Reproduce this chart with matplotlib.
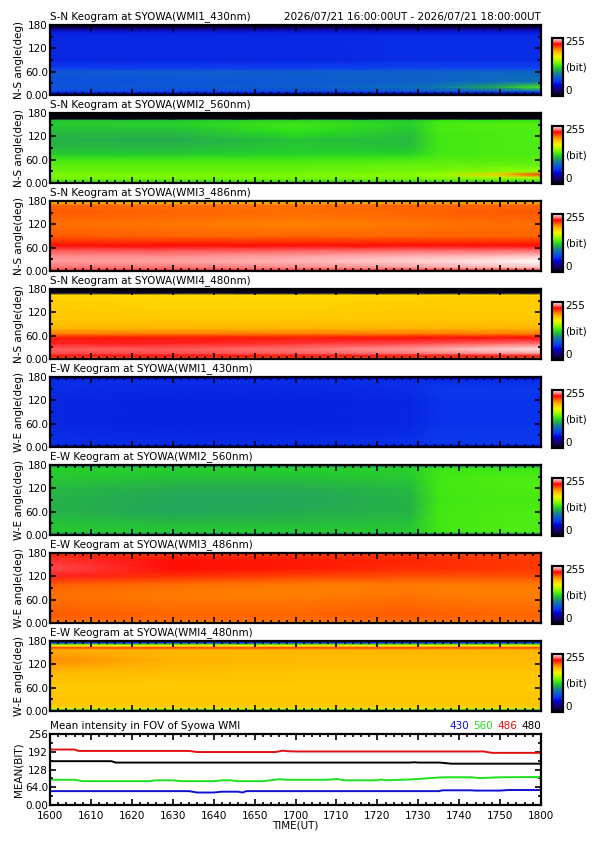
import numpy as np
import matplotlib
matplotlib.use('Agg')
import matplotlib.pyplot as plt
from matplotlib.colors import LinearSegmentedColormap
from matplotlib.ticker import MultipleLocator

plt.rcParams['font.family'] = ['DejaVu Sans']

W, H = 595, 842
FS = 7.5

# --- time axis (minutes after 16:00 UT) ---
t_nodes = [0, 30, 60, 88, 95, 110, 120]
time_ticks = [0, 10, 20, 30, 40, 50, 60, 70, 80, 90, 100, 110, 120]
time_labels = ['1600', '1610', '1620', '1630', '1640', '1650', '1700',
               '1710', '1720', '1730', '1740', '1750', '1800']
date_text = '2026/07/21 16:00:00UT - 2026/07/21 18:00:00UT'

# --- keogram panels: angle nodes and values (bit) at t_nodes ---
sn430_ang = [0, 4, 10, 20, 35, 50, 60, 70, 90, 120, 150, 162, 172, 180]
sn430_val = [[10, 10, 10, 10, 10, 10, 10],
             [40, 40, 40, 40, 40, 40, 40],
             [72, 72, 74, 76, 78, 80, 82],
             [78, 80, 82, 90, 95, 115, 135],
             [76, 78, 80, 82, 84, 88, 92],
             [78, 80, 82, 84, 84, 86, 88],
             [80, 82, 82, 84, 84, 86, 86],
             [68, 68, 68, 70, 70, 70, 70],
             [60, 60, 60, 62, 62, 62, 62],
             [60, 60, 60, 62, 62, 62, 62],
             [60, 60, 60, 62, 62, 62, 62],
             [56, 56, 56, 56, 56, 56, 56],
             [25, 25, 25, 25, 25, 25, 25],
             [0, 0, 0, 0, 0, 0, 0]]

sn560_ang = [0, 3, 8, 15, 22, 30, 45, 60, 75, 90, 110, 130, 150, 163, 165, 180]
sn560_val = [[40, 40, 40, 40, 40, 40, 40],
             [130, 130, 130, 130, 130, 130, 130],
             [140, 140, 140, 140, 140, 140, 140],
             [146, 146, 146, 148, 150, 156, 160],
             [148, 148, 148, 150, 152, 190, 222],
             [142, 142, 142, 144, 146, 150, 154],
             [140, 140, 140, 142, 142, 142, 142],
             [134, 134, 134, 136, 138, 138, 138],
             [122, 122, 124, 124, 134, 136, 136],
             [118, 118, 122, 120, 134, 136, 136],
             [116, 114, 120, 118, 134, 136, 136],
             [118, 118, 128, 120, 134, 136, 136],
             [122, 124, 134, 124, 136, 138, 138],
             [120, 120, 124, 120, 130, 130, 130],
             [5, 5, 5, 5, 5, 5, 5],
             [0, 0, 0, 0, 0, 0, 0]]

sn486_ang = [0, 3, 10, 25, 40, 55, 65, 75, 90, 120, 150, 170, 177, 180]
sn486_val = [[220, 220, 220, 220, 220, 220, 220],
             [235, 235, 235, 235, 235, 235, 235],
             [240, 240, 242, 244, 245, 247, 248],
             [244, 245, 247, 250, 251, 253, 255],
             [242, 242, 244, 246, 246, 247, 248],
             [236, 236, 237, 238, 238, 238, 238],
             [228, 228, 228, 228, 228, 228, 228],
             [222, 222, 222, 222, 222, 222, 222],
             [214, 212, 212, 212, 212, 212, 212],
             [210, 208, 206, 208, 209, 210, 210],
             [214, 212, 210, 212, 213, 214, 214],
             [212, 210, 210, 212, 212, 212, 212],
             [190, 190, 190, 190, 190, 190, 190],
             [150, 150, 150, 150, 150, 150, 150]]

sn480_ang = [0, 4, 8, 15, 25, 40, 55, 65, 80, 100, 130, 160, 165, 170, 180]
sn480_val = [[200, 200, 200, 200, 200, 200, 200],
             [215, 215, 215, 215, 215, 215, 215],
             [228, 228, 228, 228, 228, 228, 228],
             [236, 236, 238, 240, 241, 243, 244],
             [238, 238, 240, 244, 246, 250, 252],
             [232, 232, 234, 236, 237, 239, 240],
             [226, 226, 226, 228, 228, 228, 228],
             [208, 208, 208, 208, 208, 208, 208],
             [194, 194, 194, 194, 194, 194, 194],
             [189, 189, 189, 189, 189, 189, 189],
             [187, 185, 185, 187, 187, 187, 187],
             [185, 183, 183, 185, 186, 187, 187],
             [180, 180, 180, 180, 180, 180, 180],
             [10, 10, 10, 10, 10, 10, 10],
             [0, 0, 0, 0, 0, 0, 0]]

ew430_ang = [0, 3, 8, 30, 60, 90, 120, 150, 172, 177, 180]
ew430_val = [[25, 25, 25, 25, 25, 25, 25],
             [48, 48, 48, 48, 48, 48, 48],
             [62, 62, 62, 64, 66, 66, 66],
             [62, 60, 60, 62, 66, 66, 66],
             [60, 58, 58, 60, 64, 64, 64],
             [60, 58, 58, 60, 64, 64, 64],
             [60, 58, 58, 60, 64, 64, 64],
             [62, 60, 60, 62, 66, 66, 66],
             [62, 62, 62, 62, 62, 62, 62],
             [48, 48, 48, 48, 48, 48, 48],
             [25, 25, 25, 25, 25, 25, 25]]

ew560_ang = [0, 3, 8, 30, 60, 90, 120, 150, 172, 177, 180]
ew560_val = [[70, 70, 70, 70, 70, 70, 70],
             [100, 100, 100, 100, 100, 100, 100],
             [122, 122, 122, 122, 134, 136, 136],
             [120, 118, 118, 120, 134, 136, 136],
             [116, 112, 114, 116, 134, 136, 136],
             [116, 112, 112, 116, 133, 135, 135],
             [118, 114, 114, 118, 134, 136, 136],
             [122, 120, 120, 122, 134, 136, 136],
             [124, 124, 124, 124, 132, 132, 132],
             [110, 110, 110, 110, 110, 110, 110],
             [90, 90, 90, 90, 90, 90, 90]]

ew486_ang = [0, 2, 5, 20, 40, 60, 80, 100, 120, 140, 160, 175, 180]
ew486_val = [[90, 90, 90, 90, 90, 90, 90],
             [180, 180, 180, 180, 180, 180, 180],
             [210, 210, 210, 210, 210, 210, 210],
             [214, 212, 212, 214, 213, 212, 212],
             [212, 210, 210, 212, 211, 210, 210],
             [210, 208, 208, 210, 209, 208, 208],
             [210, 208, 206, 208, 207, 206, 206],
             [214, 210, 208, 208, 208, 208, 208],
             [232, 222, 218, 216, 216, 216, 216],
             [236, 228, 226, 222, 222, 221, 220],
             [234, 228, 226, 224, 223, 221, 220],
             [224, 222, 222, 220, 219, 218, 218],
             [214, 214, 214, 214, 214, 214, 214]]

ew480_ang = [0, 3, 6, 10, 20, 60, 100, 130, 155, 160, 163, 166, 170, 173, 176, 180]
ew480_val = [[60, 60, 60, 60, 60, 60, 60],
             [110, 110, 110, 110, 110, 110, 110],
             [160, 160, 160, 160, 160, 160, 160],
             [186, 186, 186, 186, 186, 186, 186],
             [190, 190, 190, 190, 190, 190, 190],
             [188, 188, 188, 188, 188, 188, 188],
             [194, 192, 190, 190, 190, 190, 190],
             [204, 196, 194, 194, 194, 194, 194],
             [198, 194, 194, 194, 194, 194, 194],
             [200, 200, 200, 200, 200, 200, 200],
             [222, 222, 222, 222, 222, 222, 222],
             [196, 196, 196, 196, 196, 196, 196],
             [170, 170, 170, 170, 170, 170, 170],
             [120, 120, 120, 120, 120, 120, 120],
             [66, 66, 66, 66, 66, 66, 66],
             [55, 55, 55, 55, 55, 55, 55]]

panels = [
    ('S-N Keogram at SYOWA(WMI1_430nm)', 'N-S angle(deg)', sn430_ang, sn430_val),
    ('S-N Keogram at SYOWA(WMI2_560nm)', 'N-S angle(deg)', sn560_ang, sn560_val),
    ('S-N Keogram at SYOWA(WMI3_486nm)', 'N-S angle(deg)', sn486_ang, sn486_val),
    ('S-N Keogram at SYOWA(WMI4_480nm)', 'N-S angle(deg)', sn480_ang, sn480_val),
    ('E-W Keogram at SYOWA(WMI1_430nm)', 'W-E angle(deg)', ew430_ang, ew430_val),
    ('E-W Keogram at SYOWA(WMI2_560nm)', 'W-E angle(deg)', ew560_ang, ew560_val),
    ('E-W Keogram at SYOWA(WMI3_486nm)', 'W-E angle(deg)', ew486_ang, ew486_val),
    ('E-W Keogram at SYOWA(WMI4_480nm)', 'W-E angle(deg)', ew480_ang, ew480_val),
]

# --- mean intensity (bit) ---
red_t = [0, 6, 7, 34, 36, 55, 57, 58, 60, 106, 108, 120]
red_v = [200, 200, 195, 195, 191, 191, 196, 194, 193, 193, 188, 188]
black_t = [0, 15, 16, 88, 89, 90, 95, 96, 98, 120]
black_v = [158, 158, 153, 153, 154, 153, 153, 152, 149, 149]
green_t = [0, 6, 8, 24, 26, 30, 32, 40, 42, 44, 46, 52, 54, 56, 58, 60, 68, 70,
           72, 80, 81, 82, 88, 96, 103, 105, 110, 120]
green_v = [91, 91, 86, 86, 89, 89, 86, 86, 89, 89, 86, 86, 89, 93, 91, 91, 91, 94,
           89, 89, 92, 89, 92, 100, 100, 97, 100, 101]
blue_t = [0, 34, 36, 40, 42, 46, 47, 48, 95, 96, 103, 104, 110, 112, 120]
blue_v = [50, 50, 45, 45, 48, 48, 45, 50, 50, 53, 53, 52, 52, 54, 54]

# colour table (black - blue - green - yellow - red - white)
cmap = LinearSegmentedColormap.from_list('keo', [
    (0.00, (0, 0, 0)), (0.08, (0.08, 0, 0.4)), (0.18, (0, 0, 0.8)),
    (0.27, (0.05, 0.25, 0.95)), (0.38, (0.05, 0.5, 0.65)), (0.45, (0.15, 0.68, 0.3)),
    (0.50, (0.15, 0.88, 0.1)), (0.60, (0.6, 1, 0)), (0.68, (1, 0.95, 0)),
    (0.77, (1, 0.7, 0)), (0.84, (1, 0.35, 0)), (0.90, (1, 0.02, 0.02)),
    (0.95, (1, 0.55, 0.55)), (1.00, (1, 1, 1))])


def fx(px):
    return px / W


def fy(py):
    return 1 - py / H


def style_axes(ax, lw=1.6):
    for s in ax.spines.values():
        s.set_linewidth(lw)
    ax.tick_params(which='both', direction='in', top=True, right=True,
                   labelsize=FS, pad=1.5, width=1.2)
    ax.tick_params(which='major', length=4)
    ax.tick_params(which='minor', length=2)


fig = plt.figure(figsize=(W / 100, H / 100), dpi=100)

left, right = 50, 541
ph = 70
for i, (title, ylab, ang, val) in enumerate(panels):
    top = 25 + 88 * i
    ax = fig.add_axes([fx(left), fy(top + ph), fx(right) - fx(left), ph / H])
    mesh = ax.pcolormesh(t_nodes, ang, np.array(val, dtype=float), shading='gouraud',
                         cmap=cmap, vmin=0, vmax=255)
    ax.set_xlim(0, 120)
    ax.set_ylim(0, 180)
    ax.set_xticks(time_ticks)
    ax.set_xticklabels([])
    ax.xaxis.set_minor_locator(MultipleLocator(2))
    ax.set_yticks([0, 60, 120, 180])
    ax.set_yticklabels(['0.00', '60.0', '120', '180'])
    ax.yaxis.set_minor_locator(MultipleLocator(30))
    style_axes(ax)
    ax.set_ylabel(ylab, fontsize=FS, labelpad=1)
    fig.text(fx(left), fy(top - 3), title, fontsize=FS, ha='left', va='bottom')
    if i == 0:
        fig.text(fx(right), fy(top - 3), date_text, fontsize=FS, ha='right', va='bottom')

    cax = fig.add_axes([fx(552), fy(top + ph + 1), fx(563) - fx(552), 58 / H])
    cb = fig.colorbar(mesh, cax=cax, ticks=[])
    cb.outline.set_linewidth(1.6)
    fig.text(fx(565), fy(top + 17), '255', fontsize=FS, ha='left', va='center')
    fig.text(fx(565), fy(top + 42), '(bit)', fontsize=FS, ha='left', va='center')
    fig.text(fx(565), fy(top + 66), '0', fontsize=FS, ha='left', va='center')

# mean intensity panel
ltop, lbot = 734, 805
ax = fig.add_axes([fx(left), fy(lbot), fx(right) - fx(left), (lbot - ltop) / H])
ax.plot(red_t, red_v, color='#e01010', lw=1.4)
ax.plot(black_t, black_v, color='black', lw=1.4)
ax.plot(green_t, green_v, color='#20e020', lw=1.4)
ax.plot(blue_t, blue_v, color='#1010d0', lw=1.4)
ax.set_xlim(0, 120)
ax.set_ylim(0, 256)
ax.set_xticks(time_ticks)
ax.set_xticklabels(time_labels)
ax.xaxis.set_minor_locator(MultipleLocator(2))
ax.set_yticks([0, 64, 128, 192, 256])
ax.set_yticklabels(['0.00', '64.0', '128', '192', '256'])
ax.yaxis.set_minor_locator(MultipleLocator(32))
style_axes(ax)
ax.tick_params(axis='x', pad=4)
ax.set_ylabel('MEAN(BIT)', fontsize=FS, labelpad=1)
ax.set_xlabel('TIME(UT)', fontsize=FS, labelpad=0)
fig.text(fx(left), fy(ltop - 3), 'Mean intensity in FOV of Syowa WMI', fontsize=FS,
         ha='left', va='bottom')

# coloured channel legend, right aligned
renderer = fig.canvas.get_renderer()
xr = fx(right)
for lab, col in [('480', 'black'), ('486', '#e01010'), ('560', '#20e020'), ('430', '#1010d0')]:
    t = fig.text(xr, fy(ltop - 3), lab, fontsize=FS, color=col, ha='right', va='bottom')
    bb = t.get_window_extent(renderer)
    xr = xr - (bb.width + 4) / W

fig.savefig('out.png', dpi=100)
